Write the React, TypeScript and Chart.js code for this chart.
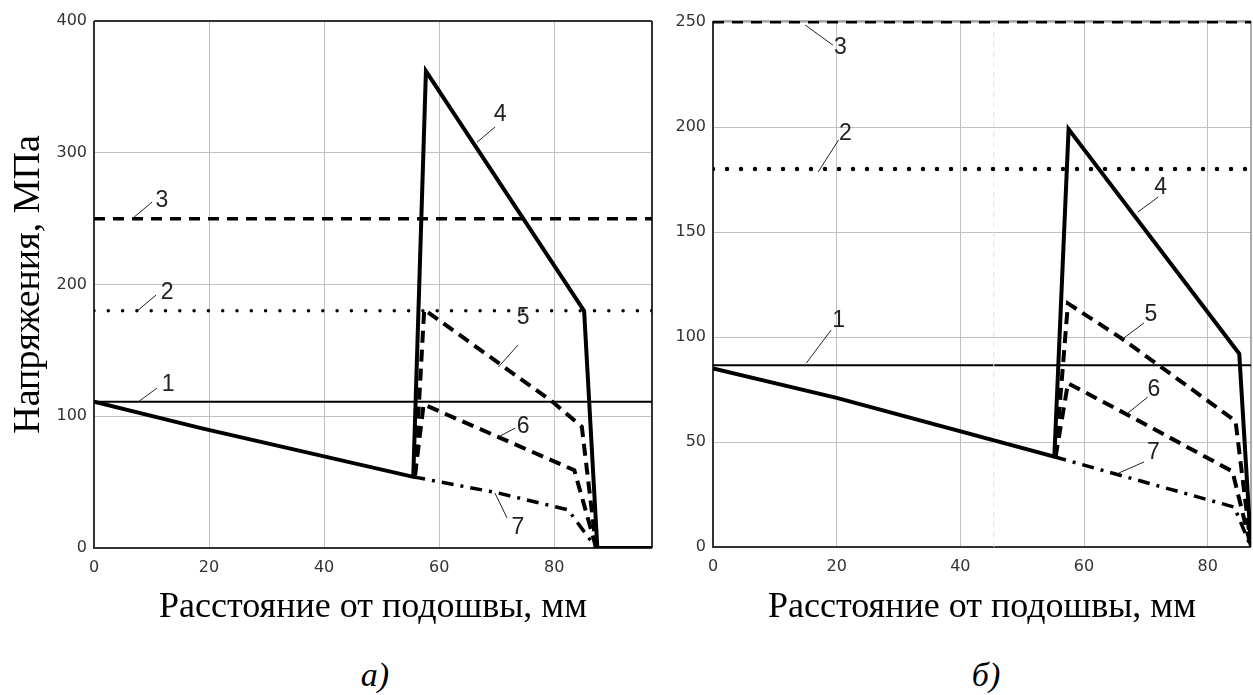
import React, { useEffect, useRef } from "react";
import { Chart, registerables } from "chart.js";
Chart.register(...registerables);

// ---------- tick labels ----------
const xTickValues = [0, 20, 40, 60, 80];
const yTicksA = [0, 100, 200, 300, 400];
const yTicksB = [0, 50, 100, 150, 200, 250];

// ---------- chart а) ----------
const a1X = [0, 97];
const a1Y = [111, 111];
const a2X = [0, 97];
const a2Y = [180, 180];
const a3X = [0, 97];
const a3Y = [250, 250];
const a4X = [0, 18.6, 55.5, 57.7, 85.2, 87.5, 97];
const a4Y = [111, 91, 54, 362, 180, 0, 0];
const a5X = [55.8, 57.4, 79.7, 84.8, 87.3];
const a5Y = [55, 181, 111, 92, 0];
const a6X = [55.8, 57.3, 83.5, 87.3];
const a6Y = [55, 109, 59, 0];
const a7X = [55.5, 70, 82.4, 87.3];
const a7Y = [54, 42, 29, 0];

// ---------- chart б) ----------
const b1X = [0, 87];
const b1Y = [86.5, 86.5];
const b2X = [0, 87];
const b2Y = [180, 180];
const b3X = [0, 87];
const b3Y = [250, 250];
const b4X = [0, 20, 55.2, 57.5, 85.1, 87];
const b4Y = [85, 71, 43, 199, 92, 0];
const b5X = [55.4, 57.4, 66, 84.5, 87];
const b5Y = [43, 116, 99.5, 60, 0];
const b6X = [55.4, 57.4, 67, 84, 87];
const b6Y = [43, 78, 63, 36, 0];
const b7X = [55.2, 64.8, 84.3, 87];
const b7Y = [43, 35, 19, 0];
const bMarkX = [45.4, 45.4];
const bMarkY = [0, 250];

// ---------- curve labels (text, text pos, leader from, leader to) ----------
const labelsA = [
  { t: "1", tx: 12.9, ty: 123.7, x1: 7.65, y1: 110.8, x2: 10.96, y2: 121.4 },
  { t: "2", tx: 12.7, ty: 193.5, x1: 7.5, y1: 179.9, x2: 10.8, y2: 192 },
  { t: "3", tx: 11.8, ty: 264, x1: 6.8, y1: 250.5, x2: 10.1, y2: 262.6 },
  { t: "4", tx: 70.6, ty: 328.6, x1: 66.6, y1: 308, x2: 69.7, y2: 319.5 },
  { t: "5", tx: 74.6, ty: 174.6, x1: 70.3, y1: 137.4, x2: 73.7, y2: 154 },
  { t: "6", tx: 74.6, ty: 91.8, x1: 70.3, y1: 84.3, x2: 73.2, y2: 91 },
  { t: "7", tx: 73.7, ty: 15.2, x1: 69.7, y1: 41.7, x2: 71.8, y2: 22.8 },
];
const labelsB = [
  { t: "1", tx: 20.3, ty: 108, x1: 15.1, y1: 87.6, x2: 19.1, y2: 103.3 },
  { t: "2", tx: 21.4, ty: 197, x1: 17, y1: 178.6, x2: 20.3, y2: 193.8 },
  { t: "3", tx: 20.6, ty: 238, x1: 14.9, y1: 248.6, x2: 19.4, y2: 239 },
  { t: "4", tx: 72.4, ty: 171, x1: 68.7, y1: 159.5, x2: 72, y2: 166.7 },
  { t: "5", tx: 70.8, ty: 110.5, x1: 66, y1: 98.6, x2: 69.7, y2: 106.7 },
  { t: "6", tx: 71.3, ty: 74.8, x1: 67.1, y1: 63.8, x2: 70.3, y2: 71.4 },
  { t: "7", tx: 71.2, ty: 44.8, x1: 65.6, y1: 35.2, x2: 69.7, y2: 40.5 },
];

const pts = (xs: number[], ys: number[]) => xs.map((x, i) => ({ x, y: ys[i] }));

const base = { pointRadius: 0, tension: 0, showLine: true, borderColor: "#000", fill: false };
const st1 = { borderWidth: 2 };
const st2 = { borderWidth: 3.5, borderDash: [0, 14.3], borderCapStyle: "round" };
const st3 = { borderWidth: 3.5, borderDash: [11, 8] };
const st4 = { borderWidth: 4 };
const st5 = { borderWidth: 4, borderDash: [12, 7] };
const st7 = { borderWidth: 3.5, borderDash: [12, 7, 3, 7] };

const framePlugin = {
  id: "frame",
  beforeDatasetsDraw(chart: any, _a: any, opts: any) {
    const { ctx, chartArea } = chart;
    const { left, top, right, bottom } = chartArea;
    ctx.save();
    ctx.lineWidth = 2;
    ctx.strokeStyle = "#333";
    ctx.beginPath();
    ctx.moveTo(left, top);
    ctx.lineTo(left, bottom);
    ctx.lineTo(right, bottom);
    ctx.stroke();
    ctx.strokeStyle = opts.topColor || "#333";
    ctx.beginPath();
    ctx.moveTo(left, top);
    ctx.lineTo(right, top);
    ctx.stroke();
    ctx.strokeStyle = opts.rightColor || "#333";
    ctx.beginPath();
    ctx.moveTo(right, top);
    ctx.lineTo(right, bottom);
    ctx.stroke();
    ctx.restore();
  },
};

const labelPlugin = {
  id: "curveLabels",
  afterDatasetsDraw(chart: any, _a: any, opts: any) {
    const { ctx, scales } = chart;
    const xs = scales.x;
    const ys = scales.y;
    ctx.save();
    ctx.strokeStyle = "#222";
    ctx.lineWidth = 1;
    ctx.fillStyle = "#222";
    ctx.font = "23px 'Liberation Sans', Arial, sans-serif";
    ctx.textAlign = "center";
    ctx.textBaseline = "middle";
    for (const l of opts.items || []) {
      ctx.beginPath();
      ctx.moveTo(xs.getPixelForValue(l.x1), ys.getPixelForValue(l.y1));
      ctx.lineTo(xs.getPixelForValue(l.x2), ys.getPixelForValue(l.y2));
      ctx.stroke();
      ctx.fillText(l.t, xs.getPixelForValue(l.tx), ys.getPixelForValue(l.ty));
    }
    ctx.restore();
  },
};

const tickFont = { family: "'DejaVu Sans', sans-serif", size: 16 };
const titleFont = { family: "'Liberation Serif', 'Times New Roman', serif", size: 36 };

function makeConfig(p: any) {
  return {
    type: "scatter",
    data: { datasets: p.datasets },
    plugins: [framePlugin, labelPlugin],
    options: {
      animation: false,
      responsive: false,
      maintainAspectRatio: false,
      layout: { padding: { left: 0, top: p.padTop, right: p.padRight, bottom: 0 } },
      plugins: {
        legend: { display: false },
        tooltip: { enabled: false },
        frame: { topColor: p.topColor, rightColor: p.rightColor },
        curveLabels: { items: p.labels },
      },
      scales: {
        x: {
          type: "linear",
          min: 0,
          max: p.xMax,
          afterBuildTicks: (s: any) => {
            s.ticks = xTickValues.map((v) => ({ value: v }));
          },
          afterFit: (s: any) => {
            s.height = p.xHeight;
          },
          grid: { color: "#c0c0c0", lineWidth: 1, drawTicks: false },
          border: { display: false },
          ticks: { padding: 10, color: "#333", font: tickFont, maxRotation: 0, autoSkip: false },
          title: {
            display: true,
            text: "Расстояние от подошвы, мм",
            color: "#000",
            font: titleFont,
            padding: { top: 0, bottom: 0 },
          },
        },
        y: {
          type: "linear",
          min: 0,
          max: p.yMax,
          afterBuildTicks: (s: any) => {
            s.ticks = p.yTicks.map((v: number) => ({ value: v }));
          },
          afterFit: (s: any) => {
            s.width = p.yWidth;
          },
          grid: { color: "#c0c0c0", lineWidth: 1, drawTicks: false },
          border: { display: false },
          ticks: { padding: 7, color: "#333", font: tickFont, autoSkip: false },
          title: p.yTitle
            ? {
                display: true,
                text: "Напряжения, МПа",
                color: "#000",
                font: { family: "'Liberation Serif', 'Times New Roman', serif", size: 38 },
                padding: { top: 6, bottom: 0 },
              }
            : { display: false },
        },
      },
    },
  };
}

function ChartBox(props: { cfg: any; left: number; width: number; height: number }) {
  const ref = useRef<HTMLCanvasElement | null>(null);
  useEffect(() => {
    if (!ref.current) return;
    const ch = new Chart(ref.current, props.cfg);
    return () => ch.destroy();
  }, []);
  return (
    <canvas
      ref={ref}
      width={props.width}
      height={props.height}
      style={{ position: "absolute", left: props.left, top: 0, width: props.width, height: props.height }}
    />
  );
}

const cfgA = makeConfig({
  xMax: 97,
  yMax: 400,
  yTicks: yTicksA,
  padTop: 21,
  padRight: 8,
  xHeight: 81,
  yWidth: 94,
  yTitle: true,
  labels: labelsA,
  datasets: [
    { ...base, ...st1, data: pts(a1X, a1Y) },
    { ...base, ...st2, data: pts(a2X, a2Y) },
    { ...base, ...st3, data: pts(a3X, a3Y) },
    { ...base, ...st7, data: pts(a7X, a7Y) },
    { ...base, ...st5, data: pts(a6X, a6Y) },
    { ...base, ...st5, data: pts(a5X, a5Y) },
    { ...base, ...st4, data: pts(a4X, a4Y) },
  ],
});

const cfgB = makeConfig({
  xMax: 87,
  yMax: 250.5,
  yTicks: yTicksB,
  padTop: 21,
  padRight: 2,
  xHeight: 82,
  yWidth: 53,
  yTitle: false,
  topColor: "#aaa",
  rightColor: "#aaa",
  labels: labelsB,
  datasets: [
    { ...base, borderColor: "#ddd", borderWidth: 1, borderDash: [5, 5], data: pts(bMarkX, bMarkY) },
    { ...base, ...st1, data: pts(b1X, b1Y) },
    { ...base, ...st2, borderWidth: 4.5, borderDash: [0, 14], data: pts(b2X, b2Y) },
    { ...base, ...st3, borderWidth: 3, data: pts(b3X, b3Y) },
    { ...base, ...st7, data: pts(b7X, b7Y) },
    { ...base, ...st5, data: pts(b6X, b6Y) },
    { ...base, ...st5, data: pts(b5X, b5Y) },
    { ...base, ...st4, data: pts(b4X, b4Y) },
  ],
});

const capStyle: React.CSSProperties = {
  position: "absolute",
  width: 100,
  top: 650,
  textAlign: "center",
  font: "italic 34px 'Liberation Serif', 'Times New Roman', serif",
  lineHeight: "50px",
  color: "#000",
};

export default function App() {
  return (
    <div style={{ position: "fixed", left: 0, top: 0, width: 1253, height: 695, background: "#fff", overflow: "hidden" }}>
      <ChartBox cfg={cfgA} left={0} width={660} height={629} />
      <ChartBox cfg={cfgB} left={660} width={593} height={629} />
      <div style={{ ...capStyle, left: 325 }}>а)</div>
      <div style={{ ...capStyle, left: 936 }}>б)</div>
    </div>
  );
}
